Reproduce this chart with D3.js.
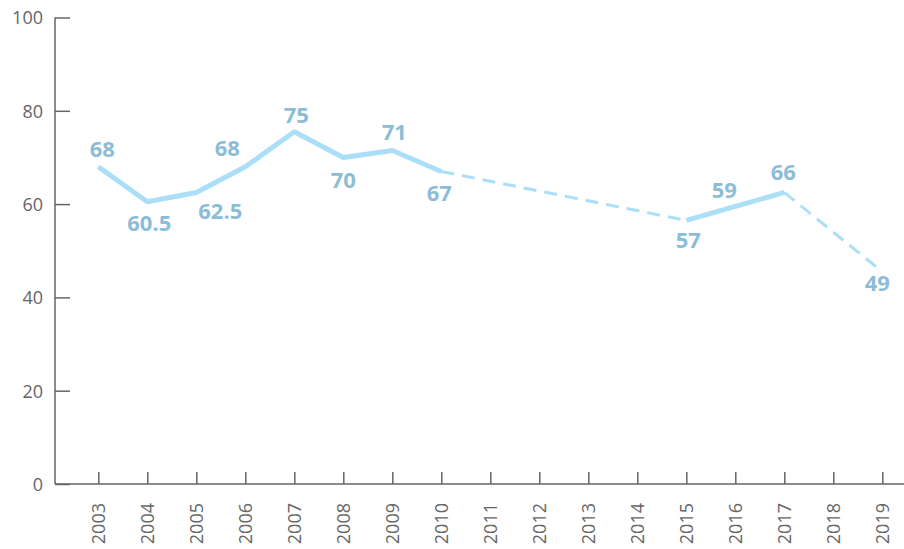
<!DOCTYPE html>
<html>
<head>
<meta charset="utf-8">
<script src="https://cdn.jsdelivr.net/npm/d3@7"></script>
<style>
  body { margin: 0; background: #fff; }
  svg { display: block; }
</style>
</head>
<body>
<svg class="chart" width="904" height="549"></svg>
<script>
// years on the axis
const years = ["2003","2004","2005","2006","2007","2008","2009","2010","2011",
  "2012","2013","2014","2015","2016","2017","2018","2019"];

// years that have a value, with the plotted value and the printed label
const pointYears = ["2003","2004","2005","2006","2007","2008","2009","2010","2015","2016","2017","2019"];
const pointValues = [68, 60.5, 62.5, 68, 75.5, 70, 71.5, 67, 56.5, 59.5, 62.5, 45.5];
const pointLabels = ["68","60.5","62.5","68","75","70","71","67","57","59","66","49"];

// solid runs, dashed where years are missing
const solidRuns = [["2003","2010"], ["2015","2017"]];
const dashedRuns = [["2010","2015"], ["2017","2019"]];

const yTicks = [0, 20, 40, 60, 80, 100];

// label placement, in pixels from each point
const labelShift = [[4,-18],[2,21],[24,19],[-18,-19],[2,-17],[0,23],[2,-18],[-2,22],[2,20],[-11,-16],[-1,-20],[-5,11]];

let svg = d3.select("svg.chart");

let x = d3.scalePoint().domain(years).range([98.3, 882.3]);
let y = d3.scaleLinear().domain([0, 100]).range([484, 17.5]);

const points = pointYears.map((yr, i) => ({year: yr, value: pointValues[i], label: pointLabels[i], shift: labelShift[i]}));
const byYear = new Map(points.map(d => [d.year, d]));

function runPoints(run) {
  const i0 = pointYears.indexOf(run[0]), i1 = pointYears.indexOf(run[1]);
  return points.slice(i0, i1 + 1);
}

let line = d3.line().x(d => x(d.year)).y(d => y(d.value));

// y axis
let yAxis = svg.append("g")
  .attr("transform", "translate(55,0)")
  .call(d3.axisRight(y).tickValues(yTicks).tickSize(15).tickFormat(d3.format("d")));
yAxis.select(".domain").remove();
yAxis.append("line").attr("x1", 0).attr("x2", 0).attr("y1", y(100)).attr("y2", y(0));
yAxis.selectAll("text").attr("x", -12).attr("text-anchor", "end").attr("dy", "0.35em");

// x axis
let xAxis = svg.append("g")
  .attr("transform", "translate(0,484)")
  .call(d3.axisTop(x).tickSize(12).tickFormat(d => d));
xAxis.select(".domain").remove();
xAxis.append("line").attr("x1", 55).attr("x2", 904).attr("y1", 0).attr("y2", 0);
xAxis.selectAll("text")
  .attr("transform", "rotate(-90)")
  .attr("x", -19).attr("y", 0).attr("dy", "0.35em")
  .attr("text-anchor", "end");

svg.selectAll("g.tick line, g > line").attr("stroke", "#666").attr("stroke-width", 1.5);
svg.selectAll("g.tick text")
  .attr("fill", "#666")
  .style("font-family", "'Open Sans', sans-serif")
  .style("font-size", "18px");

// solid parts
svg.append("g").selectAll("path")
  .data(solidRuns)
  .enter().append("path")
    .attr("d", r => line(runPoints(r)))
    .attr("fill", "none")
    .attr("stroke", "#abdff8")
    .attr("stroke-width", 5)
    .attr("stroke-linejoin", "round");

// dashed parts
svg.append("g").selectAll("path")
  .data(dashedRuns)
  .enter().append("path")
    .attr("d", r => line([byYear.get(r[0]), byYear.get(r[1])]))
    .attr("fill", "none")
    .attr("stroke", "#abdff8")
    .attr("stroke-width", 3)
    .attr("stroke-dasharray", "13,8");

// value labels
svg.append("g").selectAll("text")
  .data(points)
  .enter().append("text")
    .attr("x", d => x(d.year) + d.shift[0])
    .attr("y", d => y(d.value) + d.shift[1])
    .attr("dy", "0.36em")
    .attr("text-anchor", "middle")
    .attr("fill", "#8cbdd7")
    .style("font-family", "'Open Sans', sans-serif")
    .style("font-weight", "700")
    .style("font-size", "22px")
    .text(d => d.label);
</script>
</body>
</html>
